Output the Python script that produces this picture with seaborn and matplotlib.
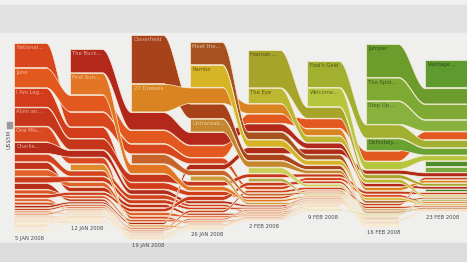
# Weekend box office flow, Jan - Feb 2008

import numpy as np
import matplotlib.pyplot as plt
import matplotlib.colors as mcolors
import seaborn as sns

# Weeks (columns)
week_labels = ['5 JAN 2008', '12 JAN 2008', '19 JAN 2008', '26 JAN 2008',
               '2 FEB 2008', '9 FEB 2008', '16 FEB 2008', '23 FEB 2008']

# Film label shown on its first bar ('' = no label)
film_labels = [
    'National...', 'Juno', 'I Am Leg...', 'Alvin an...', 'One Mis...', 'Charlie...',
    '', '', '', '', '', '', '', '', '', '', '', '', '', '', '', '', '', '', '', '',
    '', '', '', '', '', '', '',
    'The Buck...', 'First Sun...', '',
    'Cloverfield', '27 Dresses', '',
    'Meet the...', 'Rambo', 'Untraceab...', '',
    'Hannah ...', 'The Eye', '', '',
    "Fool's Gold", 'Welcome...', '',
    'Jumper', 'The Spid...', 'Step Up ...', 'Definitely...',
    'Vantage ...', '', '', '',
]

# Week index in which each film first appears
film_first_week = [0] * 33 + [1] * 3 + [2] * 3 + [3] * 4 + [4] * 4 + [5] * 3 + [6] * 4 + [7] * 4

# Weekend gross, US$ millions, one value per week from the first week on
film_gross = [
    [20.1, 12.0, 8.0, 4.8, 2.6, 2.3, 2.0, 1.1],
    [16.2, 13.6, 10.8, 9.6, 7.6, 7.8, 8.2, 6.4],
    [15.6, 9.0, 5.3, 3.4, 1.9, 1.1, 0.7],
    [15.3, 9.0, 6.5, 3.6, 3.0, 2.4, 2.3, 1.6],
    [12.5, 5.0, 2.2, 0.9],
    [9.1, 5.5, 3.6, 2.2, 1.4, 0.8, 0.5],
    [6.3, 4.3, 3.6, 1.9, 1.0, 0.5],
    [5.6, 3.5, 2.8, 1.6, 0.9, 0.5],
    [5.2, 3.6, 2.6, 1.5, 0.9, 0.5],
    [5.0, 4.0, 3.1, 1.9, 1.1, 0.7, 0.7],
    [4.8, 1.8, 0.8],
    [3.2, 2.1, 1.8, 1.0, 0.6, 0.4],
    [2.9, 2.4, 2.8, 3.3, 2.8, 2.0, 1.6, 1.0],
    [2.3, 0.8],
    [2.2, 1.1, 0.6],
    [1.9, 1.5, 1.6, 4.3, 5.0, 4.3, 3.2, 3.2],
    [1.5, 1.3, 1.1, 1.9, 2.0, 1.9, 1.7, 2.0],
    [1.4, 0.6],
    [1.2, 0.9, 0.5],
    [0.9, 0.5],
    [0.8, 0.4],
    [0.7, 0.4],
    [0.5, 0.4, 1.0, 1.3, 1.1, 0.8, 0.5],
    [0.6, 0.6, 0.7, 0.6, 0.5],
    [0.5, 0.6, 0.6, 0.8, 0.9, 0.7, 0.6, 0.5],
    [0.5, 0.7, 0.6, 0.4],
    [0.4],
    [0.4],
    [0.3],
    [0.3],
    [0.3],
    [0.25, 0.3],
    [0.2],
    # 12 Jan releases
    [19.4, 14.4, 10.4, 6.2, 4.4, 2.6, 1.9],
    [17.7, 7.6, 3.5, 1.9, 0.9, 0.4],
    [4.8, 1.5, 0.6],
    # 19 Jan releases
    [40.1, 12.0, 5.0, 3.2, 1.2, 1.0],
    [23.0, 12.9, 7.8, 5.4, 2.6, 2.0],
    [7.7, 4.2, 2.0, 1.1, 0.5],
    # 26 Jan releases
    [18.5, 6.0, 4.0, 1.8, 1.2],
    [18.2, 5.8, 3.8, 1.9, 1.1],
    [10.6, 5.0, 2.6, 1.4, 0.6],
    [4.0, 1.6, 0.6],
    # 2 Feb releases
    [31.1, 9.0, 3.2, 2.0],
    [12.4, 5.2, 3.0, 1.3],
    [4.6, 2.0, 0.8],
    [2.9, 1.0, 0.3],
    # 9 Feb releases
    [21.6, 11.0, 6.2],
    [15.5, 6.5, 4.2],
    [0.5, 0.9, 1.2],
    # 16 Feb releases
    [27.4, 12.7],
    [19.0, 12.5],
    [18.9, 9.1],
    [9.7, 5.5],
    # 23 Feb releases
    [22.9],
    [4.2],
    [4.1],
    [1.8],
]

film_colors = [
    '#d8461d', '#e2581f', '#d23c1b', '#c6361a', '#d9481f', '#b52a18',
    '#d2421e', '#bf3119', '#e0602a', '#cc3a1c', '#b82e1a', '#dd5526',
    '#c9381b', '#e06a3a', '#d14a24', '#b02a18', '#c8401e', '#e07a55',
    '#d65a35', '#e49378', '#e8a088', '#eaa890', '#d8603a', '#e48a6a',
    '#dc7050', '#e59a80', '#edb5a0', '#efbca8', '#f0c4b2', '#f2c8b8',
    '#f0c0ae', '#f3ccbc', '#f4d2c4',
    '#b4281c', '#e27624', '#e08a2c',
    '#a8421a', '#d98420', '#c8642a',
    '#a6521e', '#d6b426', '#c4862e', '#cc9c3a',
    '#a8a42a', '#bcb630', '#c8d05a', '#b4a84a',
    '#a2b032', '#b6c63c', '#9cb040',
    '#6c9c2c', '#7eaa34', '#88b23e', '#6aa232',
    '#5e9a2e', '#4c8c2a', '#78ac40', '#3f7c26',
]

# layout in pixels
col_x = [14, 70, 131, 190, 248, 307, 366, 425]
col_top = [43, 49, 35, 42, 50, 61, 44, 60]
bar_w = 32
px_per_m = 1.2
gap = 0.7

sns.set_theme(style='white')
plt.rcParams['font.family'] = ['DejaVu Sans']

n_weeks = len(week_labels)
n_films = len(film_labels)

# stack the films of each week by rank
top = np.full((n_films, n_weeks), np.nan)
bot = np.full((n_films, n_weeks), np.nan)
col_bottom = []
for w in range(n_weeks):
    present = [i for i in range(n_films)
               if film_first_week[i] <= w < film_first_week[i] + len(film_gross[i])]
    present.sort(key=lambda i: -film_gross[i][w - film_first_week[i]])
    y = col_top[w]
    for i in present:
        g = film_gross[i][w - film_first_week[i]]
        top[i, w] = y
        bot[i, w] = y + g * px_per_m
        y = bot[i, w] + gap
    col_bottom.append(y)

fig = plt.figure(figsize=(4.67, 2.62), dpi=100)
fig.patch.set_facecolor('#ececec')
ax = fig.add_axes([0, 0, 1, 1])
ax.set_xlim(0, 467)
ax.set_ylim(262, 0)
ax.axis('off')

# scanned page background bands
ax.axhspan(0, 5, color='#f0f0f0', zorder=0)
ax.axhspan(5, 33, color='#e2e2e2', zorder=0)
ax.axhspan(33, 243, color='#efefee', zorder=0)
ax.axhspan(243, 262, color='#dcdcdc', zorder=0)


def smooth(t):
    return t * t * (3 - 2 * t)


t = np.linspace(0, 1, 40)[1:-1]
s = smooth(t)
for i in range(n_films):
    first = film_first_week[i]
    weeks = list(range(first, first + len(film_gross[i])))
    xs, y1, y2 = [], [], []
    for w in weeks:
        x0 = col_x[w]
        x1 = col_x[w] + bar_w if w < n_weeks - 1 else 470
        xs += [x0, x1]
        y1 += [top[i, w]] * 2
        y2 += [bot[i, w]] * 2
        if w + 1 in weeks:
            xs += list(x1 + (col_x[w + 1] - x1) * t)
            y1 += list(top[i, w] + (top[i, w + 1] - top[i, w]) * s)
            y2 += list(bot[i, w] + (bot[i, w + 1] - bot[i, w]) * s)
    ax.fill_between(xs, y1, y2, color=film_colors[i], ec='#f7ecd6', lw=0.5, zorder=2)

# film labels: light text on reds/oranges, dark text on yellows/greens
for i in range(n_films):
    if not film_labels[i]:
        continue
    w = film_first_week[i]
    rgb = np.array(mcolors.to_rgb(film_colors[i]))
    if rgb[1] > 0.75 * rgb[0]:
        tc = rgb * 0.5
    else:
        tc = rgb + (1 - rgb) * 0.6
    ax.text(col_x[w] + 2.5, top[i, w] + 2, film_labels[i], fontsize=4.2,
            color=tc, va='top', ha='left', fontstretch='condensed', zorder=3)

# week labels under each column
for w in range(n_weeks):
    ax.text(col_x[w] + 1, col_bottom[w] + 3, week_labels[w], fontsize=4.2,
            color='#4a4a4a', va='top', ha='left', fontstretch='condensed', zorder=3)

# scale key
ax.add_patch(plt.Rectangle((7, 122), 5, 5 * px_per_m, color='#9a9a9a', zorder=3))
ax.text(9.5, 130, 'US$5M', rotation=90, fontsize=4, color='#555555',
        va='top', ha='center', zorder=3)

plt.savefig('out.png', dpi=100, facecolor=fig.get_facecolor())
